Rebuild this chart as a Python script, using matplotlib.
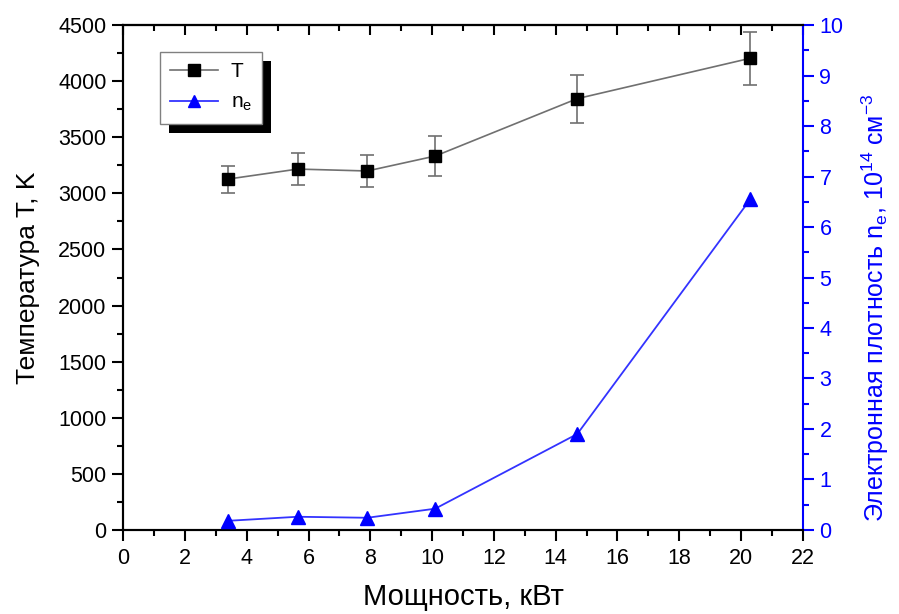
import matplotlib
matplotlib.use("Agg")
import matplotlib.pyplot as plt
from matplotlib.ticker import MultipleLocator
from matplotlib.patches import Rectangle
from matplotlib.lines import Line2D

plt.rcParams['font.family'] = ['Liberation Sans', 'DejaVu Sans']
plt.rcParams['mathtext.fontset'] = 'custom'
plt.rcParams['mathtext.rm'] = 'Liberation Sans'
plt.rcParams['mathtext.it'] = 'Liberation Sans'

power = [3.4, 5.65, 7.9, 10.1, 14.7, 20.3]
temperature = [3128, 3217, 3200, 3333, 3845, 4205]
temp_err = [120, 143, 143, 180, 215, 236]
density = [0.18, 0.26, 0.24, 0.42, 1.9, 6.55]

x_ticks = list(range(0, 24, 2))
t_ticks = list(range(0, 5000, 500))
n_ticks = list(range(0, 11))

fig = plt.figure(figsize=(8.99, 6.14), dpi=100)
ax = fig.add_axes([0.137, 0.137, 0.756, 0.822])
ax2 = ax.twinx()

ax.errorbar(power, temperature, yerr=temp_err, color='#707070', lw=1.2,
            ecolor='#707070', elinewidth=1.2, capsize=5, capthick=1.2,
            marker='s', ms=9, mfc='black', mec='black', zorder=3)
ax2.plot(power, density, color='#3333ff', lw=1.3, marker='^', ms=10,
         mfc='#0000ff', mec='#0000ff', zorder=3)

ax.set_xlim(0, 22)
ax.set_ylim(0, 4500)
ax2.set_ylim(0, 10)
ax.set_xticks(x_ticks)
ax.set_yticks(t_ticks)
ax2.set_yticks(n_ticks)
ax.xaxis.set_minor_locator(MultipleLocator(1))
ax.yaxis.set_minor_locator(MultipleLocator(250))
ax2.yaxis.set_minor_locator(MultipleLocator(0.5))

ax.tick_params(axis='x', which='both', direction='out', top=False, labelsize=15.5, width=1.5, pad=5)
ax.tick_params(axis='y', which='both', direction='out', right=False, labelsize=15.5, width=1.5, pad=4)
ax.tick_params(which='major', length=8)
ax.tick_params(which='minor', length=4)

ax_top = ax.secondary_xaxis('top')
ax_top.set_xticks(x_ticks)
ax_top.xaxis.set_minor_locator(MultipleLocator(1))
ax_top.tick_params(axis='x', which='both', direction='in', labeltop=False, width=1.5)
ax_top.tick_params(which='major', length=7)
ax_top.tick_params(which='minor', length=4)

ax2.tick_params(axis='y', which='both', direction='out', colors='#0000ff', labelsize=15.5, width=1.5, pad=4)
ax2.tick_params(which='major', length=8)
ax2.tick_params(which='minor', length=4)

for s in ['left', 'bottom', 'top']:
    ax.spines[s].set_linewidth(1.5)
    ax2.spines[s].set_linewidth(1.5)
ax_top.spines['top'].set_linewidth(1.5)
ax2.spines['right'].set_color('#0000ff')
ax2.spines['right'].set_linewidth(1.5)
ax.spines['right'].set_visible(False)

ax.set_xlabel('Мощность, кВт', fontsize=21, labelpad=10)
ax.set_ylabel('Температура T, K', fontsize=19)
ax.yaxis.set_label_coords(-0.122, 0.5)
ax2.set_ylabel('Электронная плотность n$_e$, 10$^{14}$ см$^{-3}$', fontsize=18,
               color='#0000ff')
ax2.yaxis.set_label_coords(1.083, 0.44)

h1 = Line2D([], [], color='#707070', lw=1.2, marker='s', ms=8, mfc='black', mec='black')
h2 = Line2D([], [], color='#3333ff', lw=1.3, marker='^', ms=9, mfc='#0000ff', mec='#0000ff')
leg = ax2.legend([h1, h2], ['T', 'n$_e$'], loc='upper left',
                 bbox_to_anchor=(0.054, 0.947), borderaxespad=0, fontsize=15, frameon=True,
                 fancybox=False, edgecolor='#808080', framealpha=1,
                 handlelength=2.3, handletextpad=0.6, borderpad=0.5, labelspacing=0.55)
leg.get_frame().set_linewidth(1.0)
leg.set_zorder(10)

fig.canvas.draw()
bb = leg.get_window_extent()
off = 9
shadow = Rectangle((bb.x0 + off, bb.y0 - off), bb.width, bb.height,
                   transform=None, facecolor='black', edgecolor='none', zorder=9)
ax2.add_artist(shadow)

fig.savefig('out.png', dpi=100)
